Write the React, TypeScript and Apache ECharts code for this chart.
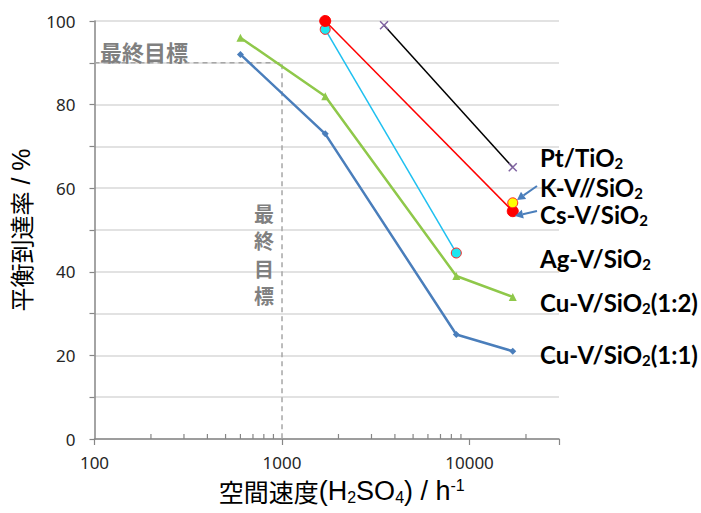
import React, { useEffect, useRef } from "react";
import * as echarts from "echarts";

// Space velocity (h^-1) and equilibrium attainment (%)
const CU_V_11_X = [600, 1700, 8500, 17000];
const CU_V_11_Y = [92, 73, 25, 21];
const CU_V_12_X = [600, 1700, 8500, 17000];
const CU_V_12_Y = [96, 82, 39, 34];
const AG_V_X = [1700, 8500];
const AG_V_Y = [98, 44.5];
const CS_V_X = [1700, 17000];
const CS_V_Y = [100, 54.5];
const K_V_X = [17000];
const K_V_Y = [56.5];
const PT_TI_X = [3500, 17000];
const PT_TI_Y = [99, 65];
const TARGET_X = [100, 1000, 1000];
const TARGET_Y = [90, 90, 0];
const MINOR_TICKS = [200, 300, 400, 500, 600, 700, 800, 900, 2000, 3000, 4000, 5000, 6000, 7000, 8000, 9000, 20000];
const X_TICK_LABELS = [100, 1000, 10000];
const Y_TICK_LABELS = [0, 20, 40, 60, 80, 100];
const TARGET_CHARS = ["最", "終", "目", "標"];

const zip = (xs: number[], ys: number[]) => xs.map((x, i) => [x, ys[i]]);

const LABEL_FONT = "Lato";
const richLabel = {
  m: { fontSize: 24, fontWeight: "bold", fontFamily: LABEL_FONT, color: "#000", lineHeight: 24 },
  s: { fontSize: 15, fontWeight: "bold", fontFamily: LABEL_FONT, color: "#000", lineHeight: 24, padding: [11, 0, 0, 0] },
};

function arrow(x1: number, y1: number, x2: number, y2: number, color: string) {
  const dx = x2 - x1;
  const dy = y2 - y1;
  const len = Math.sqrt(dx * dx + dy * dy);
  const ux = dx / len;
  const uy = dy / len;
  const hl = 8;
  const hw = 4.5;
  const bx = x2 - ux * hl;
  const by = y2 - uy * hl;
  const px = -uy;
  const py = ux;
  return [
    {
      type: "line",
      shape: { x1, y1, x2: bx, y2: by },
      style: { stroke: color, lineWidth: 2 },
      z: 100,
    },
    {
      type: "polygon",
      shape: {
        points: [
          [x2, y2],
          [bx + px * hw, by + py * hw],
          [bx - px * hw, by - py * hw],
        ],
      },
      style: { fill: color },
      z: 100,
    },
  ];
}

export default function App() {
  const ref = useRef<HTMLDivElement>(null);
  useEffect(() => {
    if (!ref.current) return;
    const chart = echarts.init(ref.current, null, { renderer: "svg" });
    const lat = "Liberation Sans";
    const cjk = "Noto Sans CJK JP";
    const option: any = {
      animation: false,
      backgroundColor: "#ffffff",
      grid: { left: 93, top: 21, right: 142, bottom: 74 },
      xAxis: {
        type: "log",
        logBase: 10,
        min: 100,
        max: 30000,
        name: "{c|空間速度}{m|(H}{s|2}{m|SO}{s|4}{m|) / h}{p|-1}",
        nameLocation: "middle",
        nameGap: 36,
        nameTextStyle: {
          padding: [0, 0, 0, 30],
          rich: {
            c: { fontSize: 25, fontFamily: cjk, color: "#000", lineHeight: 32 },
            m: { fontSize: 27, fontFamily: lat, color: "#000", lineHeight: 32 },
            s: { fontSize: 16, fontFamily: lat, color: "#000", lineHeight: 32, padding: [13, 0, 0, 0] },
            p: { fontSize: 16, fontFamily: lat, color: "#000", lineHeight: 32, padding: [0, 0, 12, 0] },
          },
        },
        axisLine: { show: true, onZero: false, lineStyle: { color: "#868686", width: 1.5 } },
        axisTick: { show: true, inside: false, length: 6, lineStyle: { color: "#868686", width: 1.2 } },
        axisLabel: {
          fontSize: 17,
          fontFamily: "Noto Sans",
          color: "#262626",
          margin: 15,
          formatter: (v: number) => (X_TICK_LABELS.some((t) => Math.abs(t - v) / t < 1e-6) ? String(Math.round(v)) : ""),
        },
        splitLine: { show: false },
      },
      yAxis: {
        type: "value",
        min: 0,
        max: 100,
        interval: 10,
        name: "{c|平衡到達率}{m| / %}",
        nameLocation: "middle",
        nameRotate: 90,
        nameGap: 59,
        nameTextStyle: {
          rich: {
            c: { fontSize: 24, fontFamily: cjk, color: "#000", lineHeight: 30 },
            m: { fontSize: 25, fontFamily: lat, color: "#000", lineHeight: 30 },
          },
        },
        axisLine: { show: true, lineStyle: { color: "#868686", width: 1.5 } },
        axisTick: { show: true, length: 5, lineStyle: { color: "#868686", width: 1.2 } },
        axisLabel: {
          fontSize: 17,
          fontFamily: "Noto Sans",
          color: "#262626",
          margin: 19,
          formatter: (v: number) => (Y_TICK_LABELS.indexOf(v) >= 0 ? String(v) : ""),
        },
        splitLine: { show: true, lineStyle: { color: "#d9d9d9", width: 1.5 } },
      },
      series: [
        {
          name: "target",
          type: "line",
          data: zip(TARGET_X, TARGET_Y),
          symbol: "none",
          lineStyle: { color: "#a6a6a6", width: 1.5, type: [5, 4] },
          silent: true,
          z: 1,
        },
        {
          name: "minorTicks",
          type: "custom",
          data: MINOR_TICKS.map((v) => [v, 0]),
          encode: { x: 0, y: 1 },
          clip: false,
          silent: true,
          z: 5,
          renderItem: (params: any, api: any) => {
            const p = api.coord([api.value(0), api.value(1)]);
            return {
              type: "line",
              shape: { x1: p[0], y1: p[1], x2: p[0], y2: p[1] - 5 },
              style: { stroke: "#868686", lineWidth: 1.2 },
            };
          },
        },
        {
          name: "Cu-V/SiO2(1:1)",
          type: "line",
          data: zip(CU_V_11_X, CU_V_11_Y),
          symbol: "diamond",
          symbolSize: 7,
          lineStyle: { color: "#4a7ebb", width: 2.5 },
          itemStyle: { color: "#4a7ebb" },
          z: 3,
        },
        {
          name: "Cu-V/SiO2(1:2)",
          type: "line",
          data: zip(CU_V_12_X, CU_V_12_Y),
          symbol: "triangle",
          symbolSize: 8,
          lineStyle: { color: "#8fc84a", width: 2.5 },
          itemStyle: { color: "#8fc84a" },
          z: 3,
        },
        {
          name: "Ag-V/SiO2",
          type: "line",
          data: zip(AG_V_X, AG_V_Y),
          symbol: "circle",
          symbolSize: 10,
          lineStyle: { color: "#1ec0f0", width: 1.5 },
          itemStyle: { color: "#1ee6f0", borderColor: "#ff2020", borderWidth: 1 },
          z: 4,
        },
        {
          name: "Cs-V/SiO2",
          type: "line",
          data: zip(CS_V_X, CS_V_Y),
          symbol: "circle",
          symbolSize: 11,
          lineStyle: { color: "#ff0000", width: 1.5 },
          itemStyle: { color: "#ff0000", borderColor: "#ff0000", borderWidth: 1 },
          z: 4,
        },
        {
          name: "K-V/SiO2",
          type: "line",
          data: zip(K_V_X, K_V_Y),
          symbol: "circle",
          symbolSize: 10,
          itemStyle: { color: "#ffff00", borderColor: "#ff2020", borderWidth: 1 },
          z: 5,
        },
        {
          name: "Pt/TiO2",
          type: "line",
          data: zip(PT_TI_X, PT_TI_Y),
          symbol: "path://M0,0L10,10M10,0L0,10",
          symbolSize: 8,
          lineStyle: { color: "#000000", width: 1.5 },
          itemStyle: { color: "none", borderColor: "#8064a2", borderWidth: 1.5 },
          z: 4,
        },
      ],
      graphic: [
        {
          type: "text",
          x: 100,
          y: 51,
          style: {
            text: "最終目標",
            fontSize: 22,
            fontWeight: "bold",
            fontFamily: cjk,
            fill: "#808080",
            verticalAlign: "middle",
          },
          z: 10,
        },
        ...TARGET_CHARS.map((ch, i) => ({
          type: "text",
          x: 264,
          y: 213 + i * 27.5,
          style: {
            text: ch,
            fontSize: 20,
            fontWeight: "bold",
            fontFamily: cjk,
            fill: "#808080",
            lineHeight: 22,
            align: "center",
            verticalAlign: "middle",
          },
          z: 10,
        })),
        { type: "text", x: 540, y: 157, style: { text: "{m|Pt/TiO}{s|2}", rich: richLabel, verticalAlign: "middle" }, z: 20 },
        { type: "text", x: 540, y: 187, style: { text: "{m|K-V//SiO}{s|2}", rich: richLabel, verticalAlign: "middle" }, z: 20 },
        { type: "text", x: 540, y: 214, style: { text: "{m|Cs-V/SiO}{s|2}", rich: richLabel, verticalAlign: "middle" }, z: 20 },
        { type: "text", x: 540, y: 258, style: { text: "{m|Ag-V/SiO}{s|2}", rich: richLabel, verticalAlign: "middle" }, z: 20 },
        { type: "text", x: 540, y: 302, style: { text: "{m|Cu-V/SiO}{s|2}{m|(1:2)}", rich: richLabel, verticalAlign: "middle" }, z: 20 },
        { type: "text", x: 540, y: 354, style: { text: "{m|Cu-V/SiO}{s|2}{m|(1:1)}", rich: richLabel, verticalAlign: "middle" }, z: 20 },
        ...arrow(537, 186, 517, 200, "#4a7ebb"),
        ...arrow(537, 211, 515, 216, "#4a7ebb"),
      ],
    };
    chart.setOption(option);
    return () => chart.dispose();
  }, []);
  return (
    <div
      ref={ref}
      style={{ position: "fixed", left: 0, top: 0, width: 701, height: 513, background: "#fff" }}
    />
  );
}
